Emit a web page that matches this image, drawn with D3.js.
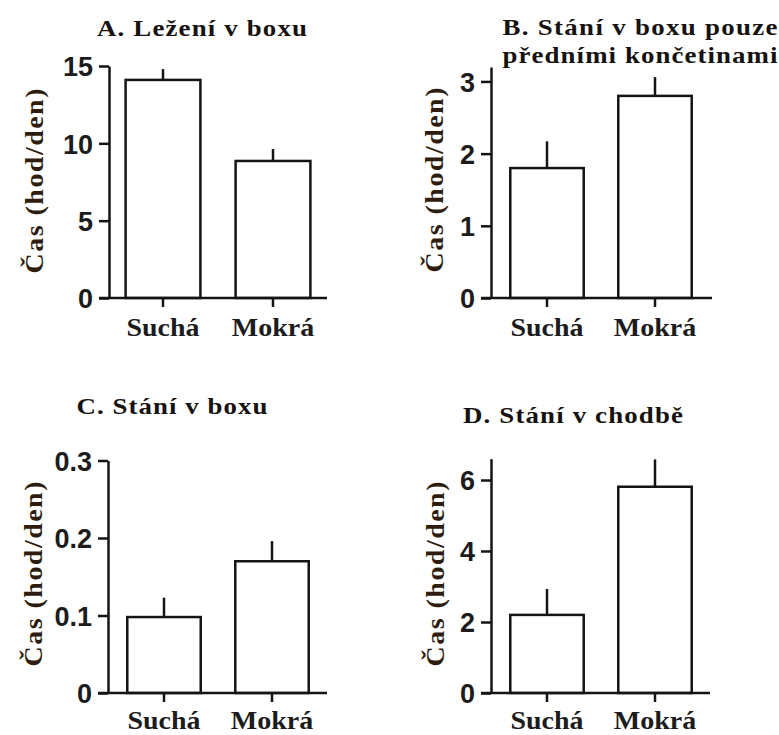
<!DOCTYPE html>
<html>
<head>
<meta charset="utf-8">
<script src="https://cdn.jsdelivr.net/npm/d3@7/dist/d3.min.js"></script>
<style>
  html, body { margin: 0; padding: 0; background: #fff; }
  svg { display: block; }
</style>
</head>
<body>
<svg id="chart" width="779" height="735"></svg>
<script>
// Categories shared by all four panels
const categories = ["Suchá", "Mokrá"];

// A. Lying in the stall (h/day)
const lyingMeans = [14.1, 8.86];
const lyingErrors = [0.7, 0.77];
const lyingTicks = [0, 5, 10, 15];

// B. Standing with front legs only (h/day)
const frontMeans = [1.8, 2.8];
const frontErrors = [0.37, 0.26];
const frontTicks = [0, 1, 2, 3];

// C. Standing in the stall (h/day)
const standMeans = [0.098, 0.17];
const standErrors = [0.025, 0.026];
const standTicks = [0, 0.1, 0.2, 0.3];

// D. Standing in the alley (h/day)
const alleyMeans = [2.2, 5.81];
const alleyErrors = [0.73, 0.77];
const alleyTicks = [0, 2, 4, 6];

const titleA = ["A. Ležení v boxu"];
const titleB = ["B. Stání v boxu pouze", "předními končetinami"];
const titleC = ["C. Stání v boxu"];
const titleD = ["D. Stání v chodbě"];
const yAxisTitle = "Čas (hod/den)";

const height = 735;
const svg = d3.select("#chart");
const ink = "#141414";
const SERIF = '"Liberation Serif", "Times New Roman", Times, serif';
const SANS = '"Liberation Sans", Arial, sans-serif';

// Layout of each panel (pixel frame, axis extent, text widths)
const panels = [
  { title: titleA, means: lyingMeans, errs: lyingErrors, ticks: lyingTicks, max: 15,
    fmt: d3.format("d"), axisX: 109, base: 298, top: 66, band: [108, 328], xEnd: 327,
    titleX: 202, titleY: [36], titleW: [210], ylabX: 43, ylabY: 181 },
  { title: titleB, means: frontMeans, errs: frontErrors, ticks: frontTicks, max: 3.2,
    fmt: d3.format("d"), axisX: 491, base: 298, top: 67, band: [493, 709], xEnd: 712,
    titleX: 640, titleY: [35, 63], titleW: [275, 275], ylabX: 443, ylabY: 180 },
  { title: titleC, means: standMeans, errs: standErrors, ticks: standTicks, max: 0.3,
    fmt: d3.format(".1~f"), axisX: 108, base: 693, top: 460.5, band: [110, 326], xEnd: 327,
    titleX: 172, titleY: [414], titleW: [191], ylabX: 42, ylabY: 574 },
  { title: titleD, means: alleyMeans, errs: alleyErrors, ticks: alleyTicks, max: 6.6,
    fmt: d3.format("d"), axisX: 491, base: 693, top: 458.7, band: [493, 709], xEnd: 710,
    titleX: 573, titleY: [423], titleW: [220], ylabX: 444, ylabY: 574 }
];

const tickLen = 10;
const strokeW = 2.5;
const ylabW = 185;
const catLabelW = [73, 83];
const maxGlyphStretch = 1.12;

// Place a middle-anchored text at (x, y): glyphs widened a little,
// the rest of the target width taken up by letter spacing
function placeWide(textSel, x, y, target, rotate) {
  const w = textSel.node().getComputedTextLength();
  const k = w > 0 ? Math.min(target / w, maxGlyphStretch) : 1;
  textSel.attr("x", 0).attr("y", 0)
    .attr("transform", `translate(${x},${y})${rotate ? " rotate(" + rotate + ")" : ""} scale(${k},1)`);
  if (target / k > w + 1) {
    textSel.attr("textLength", target / k).attr("lengthAdjust", "spacing");
  }
}

panels.forEach(p => {
  const g = svg.append("g");

  const y = d3.scaleLinear().domain([0, p.max]).range([p.base, p.top]);
  const x = d3.scaleBand().domain(categories).range(p.band)
    .paddingInner(0.32).paddingOuter(0.16);

  // Bars
  g.selectAll("rect.bar").data(categories).join("rect")
    .attr("class", "bar")
    .attr("x", d => x(d))
    .attr("width", x.bandwidth())
    .attr("y", (d, i) => y(p.means[i]))
    .attr("height", (d, i) => y(0) - y(p.means[i]))
    .attr("fill", "#fff")
    .attr("stroke", ink)
    .attr("stroke-width", strokeW);

  // Error bars (upper half only)
  g.selectAll("line.err").data(categories).join("line")
    .attr("class", "err")
    .attr("x1", d => x(d) + x.bandwidth() / 2)
    .attr("x2", d => x(d) + x.bandwidth() / 2)
    .attr("y1", (d, i) => y(p.means[i]))
    .attr("y2", (d, i) => y(p.means[i] + p.errs[i]))
    .attr("stroke", ink)
    .attr("stroke-width", strokeW);

  // Y axis
  const yAxis = g.append("g")
    .attr("transform", `translate(${p.axisX},0)`)
    .call(d3.axisLeft(y).tickValues(p.ticks).tickFormat(p.fmt)
      .tickSizeInner(tickLen).tickSizeOuter(0).tickPadding(6));
  yAxis.attr("font-family", SANS).attr("font-size", 27).attr("font-weight", "bold");
  yAxis.select(".domain").attr("stroke", ink).attr("stroke-width", strokeW);
  yAxis.selectAll(".tick line").attr("stroke", ink).attr("stroke-width", strokeW);
  yAxis.selectAll(".tick text")
    .attr("fill", "#1c1c1c")
    .attr("dy", "0.36em");

  // X axis (ticks only; labels placed separately)
  const xAxis = g.append("g")
    .attr("transform", `translate(0,${p.base})`)
    .call(d3.axisBottom(x).tickSizeInner(9).tickSizeOuter(0).tickFormat(""));
  xAxis.select(".domain").remove();
  xAxis.selectAll(".tick line").attr("stroke", ink).attr("stroke-width", strokeW);

  const labelY = Math.min(p.base + 38, height - 6);
  categories.forEach((c, i) => {
    const t = g.append("text")
      .attr("font-family", SERIF)
      .attr("font-weight", "bold")
      .attr("font-size", 25)
      .attr("fill", "#1c1c1c")
      .attr("text-anchor", "middle")
      .text(c);
    placeWide(t, x(c) + x.bandwidth() / 2, labelY, catLabelW[i]);
  });

  // Baseline, joined to the zero tick
  g.append("line")
    .attr("x1", p.axisX - tickLen)
    .attr("x2", p.xEnd)
    .attr("y1", y(0))
    .attr("y2", y(0))
    .attr("stroke", ink)
    .attr("stroke-width", strokeW);

  // Y axis title
  const yl = g.append("text")
    .attr("font-family", SERIF)
    .attr("font-weight", "bold")
    .attr("text-anchor", "middle")
    .attr("fill", "#2e1d0e")
    .attr("font-size", 25)
    .text(yAxisTitle);
  placeWide(yl, p.ylabX, p.ylabY, ylabW, -90);

  // Panel title
  p.title.forEach((line, i) => {
    const t = g.append("text")
      .attr("font-family", SERIF)
      .attr("font-weight", "bold")
      .attr("text-anchor", "middle")
      .attr("fill", "#161210")
      .attr("font-size", 24)
      .text(line);
    placeWide(t, p.titleX, p.titleY[i], p.titleW[i]);
  });
});
</script>
</body>
</html>
